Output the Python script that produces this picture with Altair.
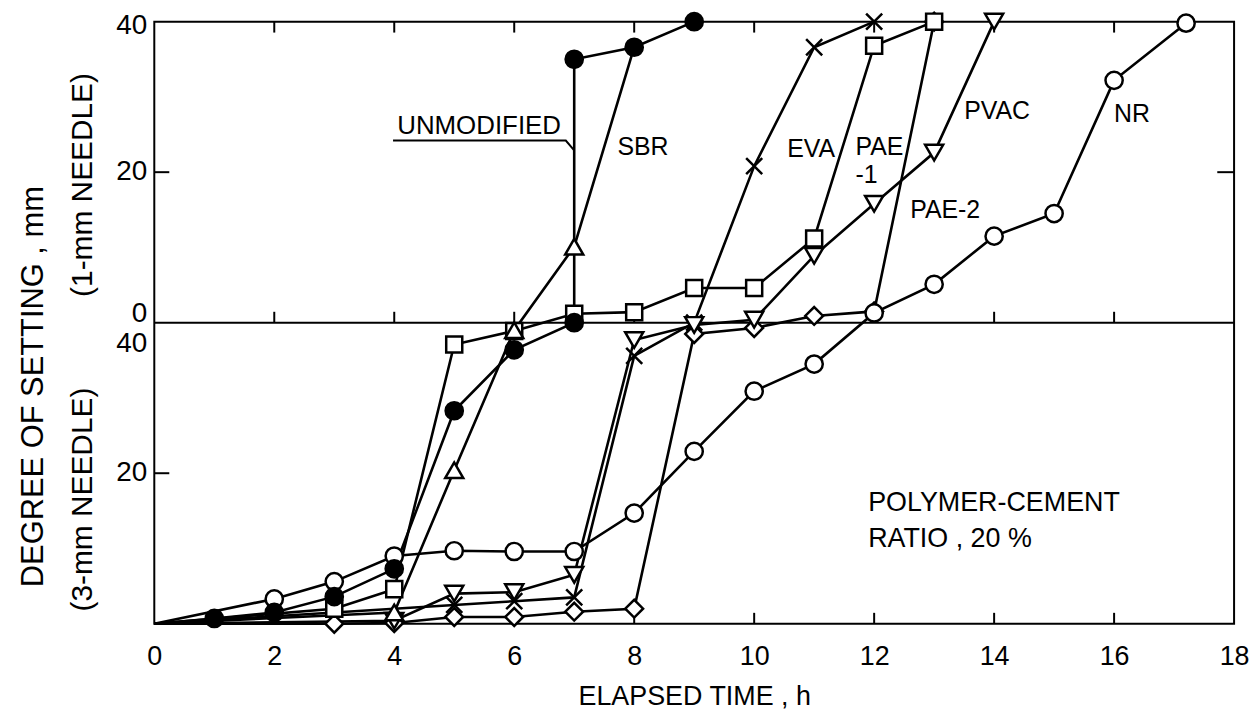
import altair as alt
import pandas as pd

FONT = "Liberation Sans"

# ---- readings: elapsed time (h) and degree of setting (mm) ----
# "3mm" = 3-mm needle (lower half), "1mm" = 1-mm needle (upper half)
unmod_t3 = [0, 1, 2, 3, 4, 5, 6, 7]
unmod_v3 = [0, 0.7, 1.5, 3.6, 7.3, 28.3, 36.4, 40]
unmod_t1 = [7, 8, 9]
unmod_v1 = [35.0, 36.6, 40]

sbr_t3 = [0, 4, 5, 6]
sbr_v3 = [0, 1.5, 20.4, 39.0]
sbr_t1 = [7, 8]
sbr_v1 = [10.1, 36.6]

eva_t3 = [0, 5, 6, 7, 8, 9]
eva_v3 = [0, 2.5, 3.0, 3.5, 35.6, 40]
eva_t1 = [10, 11, 12]
eva_v1 = [20.8, 36.6, 40]

pae1_t3 = [0, 3, 4, 5, 6]
pae1_v3 = [0, 2.0, 4.6, 37.1, 38.9]
pae1_t1 = [7, 8, 9, 10, 11, 12, 13]
pae1_v1 = [1.2, 1.4, 4.6, 4.6, 11.2, 36.8, 40]

pae2_t3 = [0, 3, 4, 5, 6, 7, 8, 9, 10]
pae2_v3 = [0, 0, 0.1, 0.9, 0.9, 1.6, 2.0, 38.5, 39.3]
pae2_t1 = [11, 12, 13]
pae2_v1 = [0.9, 1.5, 40]

pvac_t3 = [0, 4, 5, 6, 7, 8, 9]
pvac_v3 = [0, 0.4, 4.0, 4.2, 6.5, 37.7, 39.7]
pvac_t1 = [10, 11, 12, 13, 14]
pvac_v1 = [0.4, 8.9, 15.8, 22.6, 40]

nr_t3 = [0, 2, 3, 4, 5, 6, 7, 8, 9, 10, 11]
nr_v3 = [0, 3.3, 5.6, 9.0, 9.7, 9.6, 9.6, 14.7, 22.9, 30.9, 34.5]
nr_t1 = [12, 13, 14, 15, 16, 17.2]
nr_v1 = [1.3, 5.1, 11.5, 14.5, 32.2, 39.8]

# markers that sit under another series' marker in the figure
covered = [("SBR", 8)]

series = [
    ("EVA", eva_t3, eva_v3, eva_t1, eva_v1),
    ("PAE-2", pae2_t3, pae2_v3, pae2_t1, pae2_v1),
    ("PVAC", pvac_t3, pvac_v3, pvac_t1, pvac_v1),
    ("PAE-1", pae1_t3, pae1_v3, pae1_t1, pae1_v1),
    ("SBR", sbr_t3, sbr_v3, sbr_t1, sbr_v1),
    ("NR", nr_t3, nr_v3, nr_t1, nr_v1),
    ("UNMODIFIED", unmod_t3, unmod_v3, unmod_t1, unmod_v1),
]

# marker styles
shape_of = {"UNMODIFIED": "circle", "SBR": "triangle-up", "EVA": "M-1,-1L1,1M-1,1L1,-1",
            "PAE-1": "square", "PAE-2": "diamond", "PVAC": "triangle-down", "NR": "circle"}
fill_of = {k: "white" for k in shape_of}
fill_of["UNMODIFIED"] = "black"
size_of = {"UNMODIFIED": 300, "SBR": 330, "EVA": 260, "PAE-1": 260, "PAE-2": 320,
           "PVAC": 330, "NR": 300}

rows = []
for rank, (name, t3, v3, t1, v1) in enumerate(series):
    i = 0
    for t, v in zip(t3, v3):
        rows.append(dict(series=name, t=t, c=v, idx=i, rank=rank)); i += 1
    for t, v in zip(t1, v1):
        rows.append(dict(series=name, t=t, c=40 + v, idx=i, rank=rank)); i += 1
df = pd.DataFrame(rows)
df["shape"] = df["series"].map(shape_of)
df["fillc"] = df["series"].map(fill_of)
df["sz"] = df["series"].map(size_of)
df["show"] = [(t > 0) and ((s, t) not in covered) for s, t in zip(df["series"], df["t"])]

xs = alt.Scale(domain=[0, 18], nice=False, zero=False)
ys = alt.Scale(domain=[0, 80], nice=False, zero=False)

X = alt.X("t:Q", scale=xs, axis=alt.Axis(
    values=list(range(0, 19, 2)), format="d", tickSize=0, domain=False, grid=False,
    labelFont=FONT, labelFontSize=27, labelColor="black", labelPadding=20,
    labelFlush=False, labelOverlap=False,
    title="ELAPSED TIME , h", titleFont=FONT, titleFontSize=27,
    titleFontWeight="normal", titleColor="black", titlePadding=14))
Y = alt.Y("c:Q", scale=ys, axis=None)

lines = alt.Chart(df).mark_line(color="black", strokeWidth=2.6).encode(
    x=X, y=Y, detail="series:N", order="idx:Q")

points = alt.Chart(df).transform_filter("datum.show").mark_point(
    filled=True, opacity=1, fillOpacity=1, stroke="black", strokeWidth=2.5
).encode(
    x=alt.X("t:Q", scale=xs), y=alt.Y("c:Q", scale=ys),
    shape=alt.Shape("shape:N", scale=None),
    fill=alt.Fill("fillc:N", scale=None),
    size=alt.Size("sz:Q", scale=None),
    order=alt.Order("rank:Q"))

mid = alt.Chart(pd.DataFrame({"c": [40]})).mark_rule(color="black", strokeWidth=2).encode(
    y=alt.Y("c:Q", scale=ys))

# inward ticks
tick_x = [2, 4, 6, 8, 10, 12, 14, 16]
tk = pd.DataFrame(
    [dict(t=v, c=0, c2=1.45) for v in tick_x] +
    [dict(t=v, c=80, c2=78.55) for v in tick_x] +
    [dict(t=v, c=40, c2=41.45) for v in tick_x])
xticks = alt.Chart(tk).mark_rule(color="black", strokeWidth=2).encode(
    x=alt.X("t:Q", scale=xs), y=alt.Y("c:Q", scale=ys), y2="c2:Q")
tky = pd.DataFrame([dict(t=0, t2=0.25, c=20), dict(t=0, t2=0.25, c=60),
                    dict(t=18, t2=17.72, c=60)])
yticks = alt.Chart(tky).mark_rule(color="black", strokeWidth=2).encode(
    x=alt.X("t:Q", scale=xs), x2="t2:Q", y=alt.Y("c:Q", scale=ys))

# y tick labels (two stacked scales)
ylab_c = [79.4, 60, 41.2, 37.1, 20]
ylab_txt = ["40", "20", "0", "40", "20"]
ylabels = alt.Chart(pd.DataFrame({"c": ylab_c, "txt": ylab_txt})).mark_text(
    font=FONT, fontSize=28, align="right", baseline="middle", color="black"
).encode(x=alt.value(-7), y=alt.Y("c:Q", scale=ys), text="txt:N")

# y titles
def vtitle(txt, c, px, fs):
    return alt.Chart(pd.DataFrame({"c": [c], "txt": [txt]})).mark_text(
        font=FONT, fontSize=fs, angle=270, align="center", baseline="middle",
        color="black").encode(x=alt.value(px), y=alt.Y("c:Q", scale=ys), text="txt:N")

yt1 = vtitle("DEGREE OF SETTING , mm", 31.5, -121, 31)
yt2 = vtitle("(1-mm NEEDLE)", 58.3, -72, 30)
yt3 = vtitle("(3-mm NEEDLE)", 16.5, -72, 30)

# curve labels
lab_txt = ["SBR", "EVA", "PAE", "-1", "PVAC", "PAE-2", "NR"]
lab_t = [7.72, 10.55, 11.69, 11.69, 13.5, 12.6, 16.0]
lab_c = [63.3, 63.1, 63.3, 59.6, 68.1, 55.0, 67.7]
labels = alt.Chart(pd.DataFrame({"t": lab_t, "c": lab_c, "txt": lab_txt})).mark_text(
    font=FONT, fontSize=25, align="left", baseline="middle", color="black"
).encode(x=alt.X("t:Q", scale=xs), y=alt.Y("c:Q", scale=ys), text="txt:N")

note_txt = ["POLYMER-CEMENT", "RATIO , 20 %"]
note_t = [11.9, 11.9]
note_c = [16.0, 11.3]
notes = alt.Chart(pd.DataFrame({"t": note_t, "c": note_c, "txt": note_txt})).mark_text(
    font=FONT, fontSize=27, align="left", baseline="middle", color="black"
).encode(x=alt.X("t:Q", scale=xs), y=alt.Y("c:Q", scale=ys), text="txt:N")

unmod_lab = alt.Chart(pd.DataFrame({"t": [6.78], "c": [66.1], "txt": ["UNMODIFIED"]})).mark_text(
    font=FONT, fontSize=26, align="right", baseline="middle", color="black"
).encode(x=alt.X("t:Q", scale=xs), y=alt.Y("c:Q", scale=ys), text="txt:N")

leader_t = [3.98, 6.86, 7.0]
leader_c = [64.2, 64.2, 62.9]
leader = alt.Chart(pd.DataFrame({"t": leader_t, "c": leader_c, "o": [0, 1, 2]})).mark_line(
    color="black", strokeWidth=2).encode(
    x=alt.X("t:Q", scale=xs), y=alt.Y("c:Q", scale=ys), order="o:Q")

chart = alt.layer(
    lines, mid, xticks, yticks, leader, points, ylabels, yt1, yt2, yt3, labels, notes, unmod_lab
).properties(
    width=1085, height=605,
    autosize=alt.AutoSizeParams(type="none"),
    padding={"left": 147, "top": 12, "right": 16, "bottom": 95},
    background="white",
).configure_view(stroke="black", strokeWidth=2)

chart.save("out.html", embed_options={"renderer": "svg", "actions": False})
